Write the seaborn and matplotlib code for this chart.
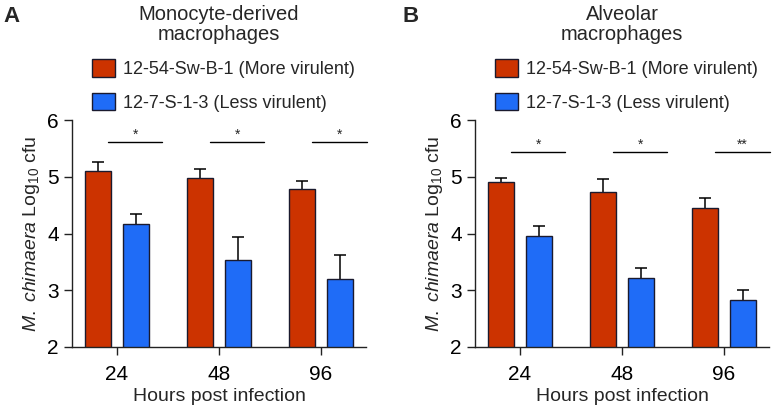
import matplotlib
matplotlib.use('Agg')
import matplotlib.pyplot as plt
import seaborn as sns
import pandas as pd
import numpy as np

# Values (log10 cfu, mean and upper SEM)
hours = ['24', '48', '96']
strains = ['12-54-Sw-B-1 (More virulent)', '12-7-S-1-3 (Less virulent)']

mdm_more = [5.11, 4.97, 4.78]
mdm_more_err = [0.15, 0.16, 0.14]
mdm_less = [4.17, 3.54, 3.20]
mdm_less_err = [0.18, 0.40, 0.42]

am_more = [4.91, 4.73, 4.45]
am_more_err = [0.07, 0.23, 0.17]
am_less = [3.95, 3.21, 2.83]
am_less_err = [0.19, 0.19, 0.18]

mdm_stars = ['*', '*', '*']
am_stars = ['*', '*', '**']

colors = ['#cc3300', '#1f6cf7']

sns.set_style('ticks')
plt.rcParams['font.family'] = ['Liberation Sans', 'DejaVu Sans']
plt.rcParams['mathtext.fontset'] = 'custom'
plt.rcParams['mathtext.rm'] = 'Liberation Sans'
plt.rcParams['mathtext.it'] = 'Liberation Sans:italic'

fig = plt.figure(figsize=(7.72, 4.12), dpi=100)
W, H = 772, 412


def px_axes(left, right, top, bottom):
    return fig.add_axes([left / W, 1 - bottom / H, (right - left) / W, (bottom - top) / H])


def panel(ax, more, more_err, less, less_err, stars, sig_y, title, letter, letter_x):
    df = pd.DataFrame({
        'hours': hours * 2,
        'strain': [strains[0]] * 3 + [strains[1]] * 3,
        'value': more + less,
    })
    sns.barplot(data=df, x='hours', y='value', hue='strain', palette=colors,
                width=0.75, gap=0.33, edgecolor='#1a1a2e', linewidth=1.0,
                saturation=1, legend=False, ax=ax, zorder=2)
    for cont, errs in zip(ax.containers, [more_err, less_err]):
        xs = [p.get_x() + p.get_width() / 2 for p in cont.patches]
        ys = [p.get_height() for p in cont.patches]
        ax.errorbar(xs, ys, yerr=errs, fmt='none', ecolor='black',
                    elinewidth=1.1, capsize=4, capthick=1.1, zorder=1)
    ax.set_ylim(2, 6)
    ax.set_yticks([2, 3, 4, 5, 6])
    ax.set_xlim(-0.44, 2.44)
    sns.despine(ax=ax)
    for s in ['left', 'bottom']:
        ax.spines[s].set_linewidth(1.0)
        ax.spines[s].set_color('#222222')
    ax.tick_params(axis='both', direction='out', length=6, width=1.0,
                   labelsize=15, colors='#222222', labelcolor='black')
    ax.tick_params(axis='x', pad=7)
    ax.set_xlabel('Hours post infection', fontsize=14, labelpad=3)
    ax.set_ylabel(r'$\mathit{M.\ chimaera}$ Log$_{10}$ cfu', fontsize=14, labelpad=4)

    for i, st in enumerate(stars):
        ax.plot([i - 0.085, i + 0.445], [sig_y, sig_y], color='black', lw=1.0,
                clip_on=False)
        ax.text(i + 0.18, sig_y + 0.12, st, ha='center', va='center', fontsize=10)

    bb = ax.get_position()
    cx = (bb.x0 + bb.x1) / 2
    fig.text(cx, 1 - 14 / H, title.split('\n')[0], ha='center', va='center', fontsize=14.5)
    fig.text(cx, 1 - 34 / H, title.split('\n')[1], ha='center', va='center', fontsize=14.5)
    fig.text(letter_x / W, 1 - 17 / H, letter, ha='left', va='center',
             fontsize=16, fontweight='bold')

    ax.legend(ax.containers, strains, loc='upper left',
              bbox_to_anchor=((bb.x0 * W + 20) / W, 1 - 59 / H),
              bbox_transform=fig.transFigure, frameon=False, fontsize=13,
              handlelength=1.25, handleheight=1.15, handletextpad=0.45,
              labelspacing=0.8, borderpad=0, borderaxespad=0)


ax_a = px_axes(72, 366, 120, 347)
ax_b = px_axes(475, 769, 120, 347)

panel(ax_a, mdm_more, mdm_more_err, mdm_less, mdm_less_err, mdm_stars, 5.62,
      'Monocyte-derived\nmacrophages', 'A', 3)
panel(ax_b, am_more, am_more_err, am_less, am_less_err, am_stars, 5.44,
      'Alveolar\nmacrophages', 'B', 403)

fig.savefig('out.png', dpi=100)
